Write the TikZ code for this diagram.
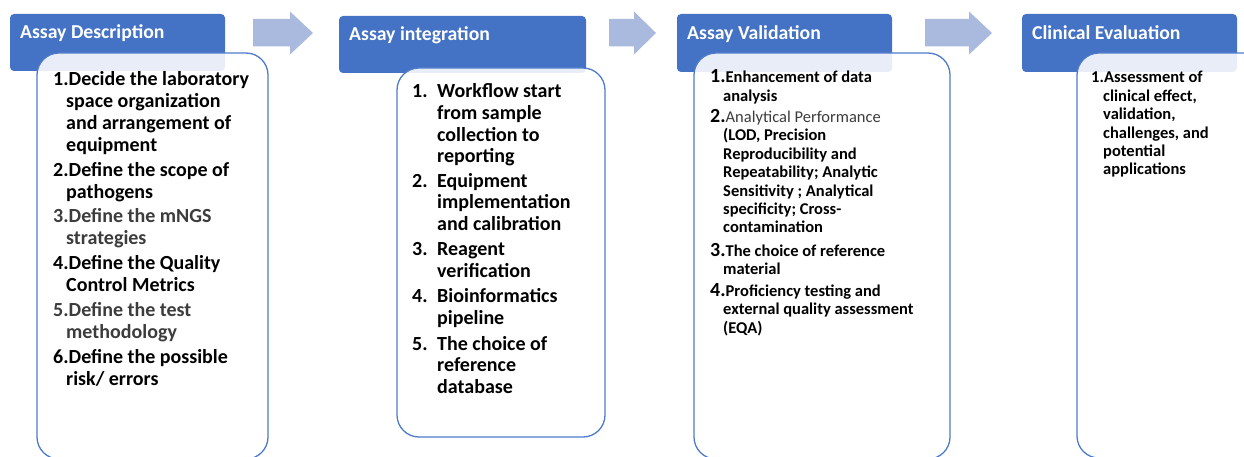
\documentclass[tikz,border=0pt]{standalone}
\usepackage{fontspec}
\setmainfont{Carlito}
\usepackage{array}
\definecolor{hdrblue}{HTML}{4472C4}
\definecolor{edgeblue}{HTML}{4F7BCB}
\definecolor{flowarrow}{HTML}{AAB9DE}
\definecolor{softink}{HTML}{3C3C3C}
% a first line that starts at the number column
\newcommand\firstline[1]{\multicolumn{2}{@{}l@{}}{#1}}
% a block arrow between two stages: start x, head x, tip x
\newcommand\stagearrow[3]{%
  \fill[flowarrow] (#1,19) -- (#2,19) -- (#2,11.5) -- (#3,33) -- (#2,54.5)
    -- (#2,46.5) -- (#1,46.5) -- cycle;}
\begin{document}
\begin{tikzpicture}[x=1pt,y=-1pt,
  header/.style={fill=hdrblue, rounded corners=4pt},
  panel/.style={draw=edgeblue, line width=1.3pt, fill=white,
    fill opacity=0.88, rounded corners=22pt},
  title/.style={anchor=base west, inner sep=0pt, text=white,
    font=\fontsize{19.7}{22}\bfseries\selectfont},
  biglist/.style={anchor=base west, inner sep=0pt,
    font=\fontsize{20}{22}\bfseries\selectfont},
  midlist/.style={anchor=base west, inner sep=0pt,
    font=\fontsize{20}{21.6}\bfseries\selectfont},
  smalllist/.style={anchor=base west, inner sep=0pt,
    font=\fontsize{16.5}{18.4}\bfseries\selectfont}]
\useasboundingbox (0,0) rectangle (1244,457);
\clip (0,0) rectangle (1244,457);

% stage headers
\fill[header] (10,14) rectangle (225,71);
\fill[header] (339,16) rectangle (586,73);
\fill[header] (677,14) rectangle (892,72);
\fill[header] (1022,14) rectangle (1237,72);

% stage bodies, laid over the lower part of each header
\path[panel] (37,53) rectangle (268,459);
\path[panel] (397,68) rectangle (605,437);
\path[panel] (694,53) rectangle (950,459);
\path[panel] (1077,53) rectangle (1290,458);

% arrows from stage to stage
\stagearrow{253}{290}{313}
\stagearrow{609}{634}{656}
\stagearrow{925}{969}{992}

% header titles
\node[title] (t1) at (20,39) {Assay Description};
\node[title] (t2) at (349,40.5) {Assay integration};
\node[title] (t3) at (687,40) {Assay Validation};
\node[title] (t4) at (1032,40) {Clinical Evaluation};

% stage 1
\node[biglist] (l1) at (53,86) {\begin{tabular}[t]{@{}p{13pt}@{}l@{}}
\firstline{1.Decide the laboratory}\\
& space organization\\
& and arrangement of\\
& equipment\\[3pt]
\firstline{2.Define the scope of}\\
& pathogens\\[2pt]
\firstline{\color{softink}3.Define the mNGS}\\
& \color{softink}strategies\\[3pt]
\firstline{4.Define the Quality}\\
& Control Metrics\\[3pt]
\firstline{\color{softink}5.Define the test}\\
& \color{softink}methodology\\[3pt]
\firstline{6.Define the possible}\\
& risk/ errors
\end{tabular}};

% stage 2
\node[midlist] (l2) at (412,98) {\begin{tabular}[t]{@{}p{25pt}@{}l@{}}
1. & Workflow start\\
& from sample\\
& collection to\\
& reporting\\[3pt]
2. & Equipment\\
& implementation\\
& and calibration\\[3.5pt]
3. & Reagent\\
& verification\\[4pt]
4. & Bioinformatics\\
& pipeline\\[4pt]
5. & The choice of\\
& reference\\
& database
\end{tabular}};

% stage 3
\node[smalllist] (l3) at (710,83) {\begin{tabular}[t]{@{}p{13pt}@{}l@{}}
\firstline{{\fontsize{20}{18.4}\selectfont 1.}Enhancement of data}\\
& analysis\\[2.5pt]
\firstline{{\fontsize{20}{18.4}\selectfont 2.}{\mdseries\color{softink}Analytical Performance}}\\
& (LOD, Precision\\
& Reproducibility and\\
& Repeatability; Analytic\\
& Sensitivity ; Analytical\\
& specificity; Cross-\\
& contamination\\[4.5pt]
\firstline{{\fontsize{20}{18.4}\selectfont 3.}The choice of reference}\\
& material\\[3.5pt]
\firstline{{\fontsize{20}{18.4}\selectfont 4.}Proficiency testing and}\\
& external quality assessment\\
& (EQA)
\end{tabular}};

% stage 4
\node[smalllist] (l4) at (1091,83) {\begin{tabular}[t]{@{}p{12pt}@{}l@{}}
\firstline{1.Assessment of}\\
& clinical effect,\\
& validation,\\
& challenges, and\\
& potential\\
& applications
\end{tabular}};
\end{tikzpicture}
\end{document}
